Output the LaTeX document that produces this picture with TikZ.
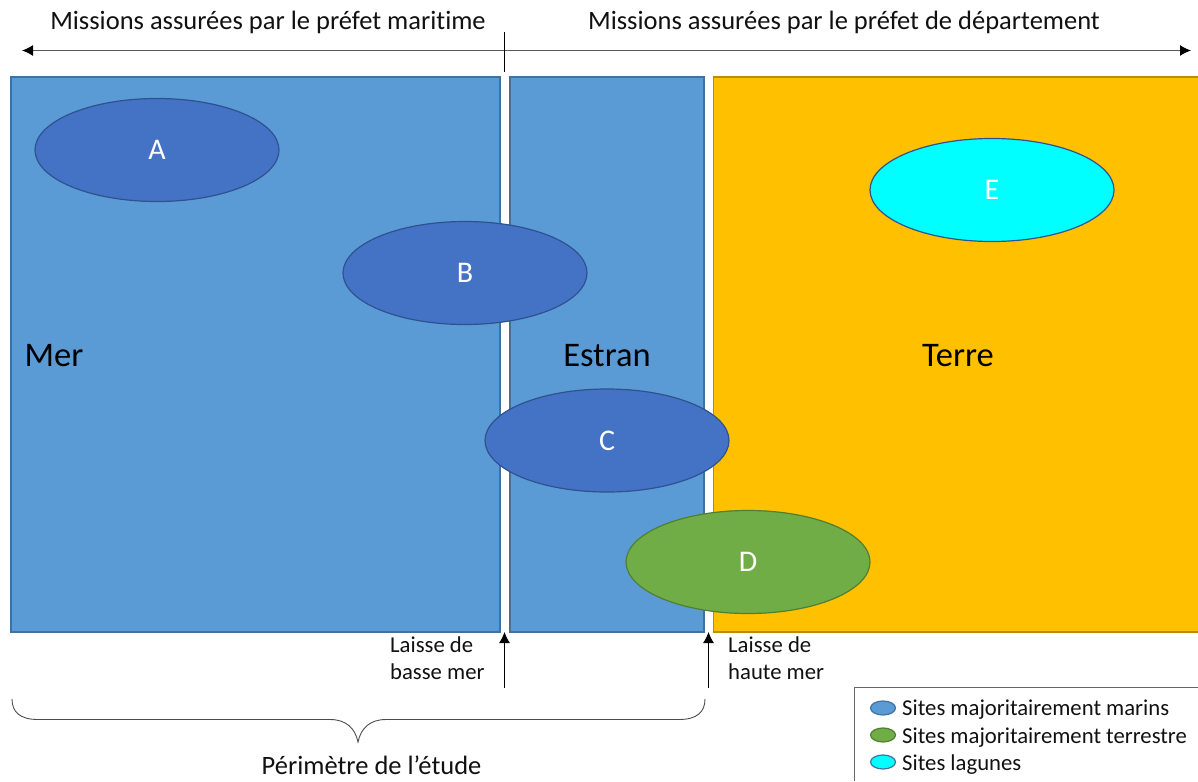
\documentclass[tikz,border=0pt]{standalone}
\usepackage{fontspec}
\setmainfont{Carlito}[Ligatures=NoCommon]
\usetikzlibrary{arrows.meta,shapes.geometric}
\definecolor{seablue}{HTML}{5B9BD5}
\definecolor{seaedge}{HTML}{41719C}
\definecolor{siteblue}{HTML}{4472C4}
\definecolor{siteedge}{HTML}{2F528F}
\definecolor{landor}{HTML}{FFC000}
\definecolor{landedge}{HTML}{BC8C00}
\definecolor{sitegreen}{HTML}{70AD47}
\definecolor{greenedge}{HTML}{507E32}
\definecolor{lagoon}{HTML}{00FFFF}
\definecolor{textk}{HTML}{111111}
\tikzset{
  zone/.style={draw=#1,line width=1.2pt,anchor=north west,inner sep=0pt,outer sep=0pt},
  site/.style={ellipse,draw=#1,line width=1.2pt,minimum width=244pt,minimum height=103pt,inner sep=0pt,text=white,font=\fontsize{30}{33}\selectfont},
  zonelabel/.style={text=black,font=\fontsize{34.5}{40}\selectfont,inner sep=0pt},
  headlabel/.style={text=textk,font=\fontsize{26.5}{30}\selectfont,inner sep=0pt},
  smalllabel/.style={text=textk,font=\fontsize{22.7}{27.2}\selectfont,inner sep=0pt,align=left,anchor=north west},
  legendlabel/.style={text=textk,font=\fontsize{22.7}{26}\selectfont,inner sep=0pt,anchor=west},
  legendmark/.style={ellipse,draw=#1,line width=1.2pt,minimum width=25pt,minimum height=14pt,inner sep=0pt},
  tick/.style={draw=black,line width=0.8pt},
  longarrow/.style={draw=black!65,line width=1.2pt,{Latex[black,length=11pt,width=11pt]}-{Latex[black,length=11pt,width=11pt]}},
  uparrow/.style={draw=black,line width=0.9pt,-{Latex[length=11pt,width=11pt]}},
  brace/.style={draw=black!70,line width=0.9pt}
}
\begin{document}
\begin{tikzpicture}[x=1pt,y=-1pt]
\useasboundingbox (0,0) rectangle (1198,781);
% zones
\node[zone=seaedge,fill=seablue,minimum width=489pt,minimum height=555pt] (mer) at (11,77) {};
\node[zone=seaedge,fill=seablue,minimum width=194pt,minimum height=555pt] (estran) at (510,77) {};
\node[zone=landedge,fill=landor,minimum width=486pt,minimum height=555pt] (terre) at (713.5,77) {};
% zone labels
\node[zonelabel] (lmer) at (54,356) {Mer};
\node[zonelabel] (lestran) at (607,356) {Estran};
\node[zonelabel] (lterre) at (958,356) {Terre};
% sites
\node[site=siteedge,fill=siteblue] (A) at (157,150) {A};
\node[site=siteedge,fill=siteblue] (B) at (465,273) {B};
\node[site=siteedge,fill=siteblue] (C) at (607,440.5) {C};
\node[site=greenedge,fill=sitegreen] (D) at (748,562) {D};
\node[site=siteedge,fill=lagoon] (E) at (992,190) {E};
% headings
\node[headlabel] (h1) at (268,22) {Missions assurées par le préfet maritime};
\node[headlabel] (h2) at (844,22) {Missions assurées par le préfet de département};
% top arrow and tick
\coordinate (al) at (22,50.5);
\coordinate (ar) at (1191,50.5);
\coordinate (tt) at (504.5,32);
\coordinate (tb) at (504.5,72);
\draw[longarrow] (al) -- (ar);
\draw[tick] (tt) -- (tb);
% water marks
\coordinate (b0) at (504.5,688);
\coordinate (b1) at (504.5,632);
\coordinate (h0) at (708.5,688);
\coordinate (h1x) at (708.5,632);
\draw[uparrow] (b0) -- (b1);
\draw[uparrow] (h0) -- (h1x);
\node[smalllabel] (lb) at (390,636.5) {Laisse de\\basse mer};
\node[smalllabel] (lh) at (728,636.5) {Laisse de\\haute mer};
% brace
\coordinate (bl) at (12,699);
\coordinate (br) at (705,699);
\coordinate (btip) at (358,742);
\draw[brace] (bl) .. controls (12,712) and (20,719.5) .. (38,719.5) -- (330,719.5)
  .. controls (346,719.5) and (355,728) .. (btip)
  .. controls (361,728) and (370,719.5) .. (386,719.5) -- (679,719.5)
  .. controls (697,719.5) and (705,712) .. (br);
\node[headlabel] (per) at (371.5,765) {Périmètre de l’étude};
% legend
\draw[draw=black!60,line width=1pt] (1198,687) -- (854.5,687) -- (854.5,781);
\node[legendmark=seaedge,fill=seablue] (m1) at (883,708) {};
\node[legendmark=greenedge,fill=sitegreen] (m2) at (883,735) {};
\node[legendmark=seaedge,fill=lagoon] (m3) at (883,762) {};
\node[legendlabel] (t1) at (902,710) {Sites majoritairement marins};
\node[legendlabel] (t2) at (902,738) {Sites majoritairement terrestre};
\node[legendlabel] (t3) at (902,765) {Sites lagunes};
\end{tikzpicture}
\end{document}
